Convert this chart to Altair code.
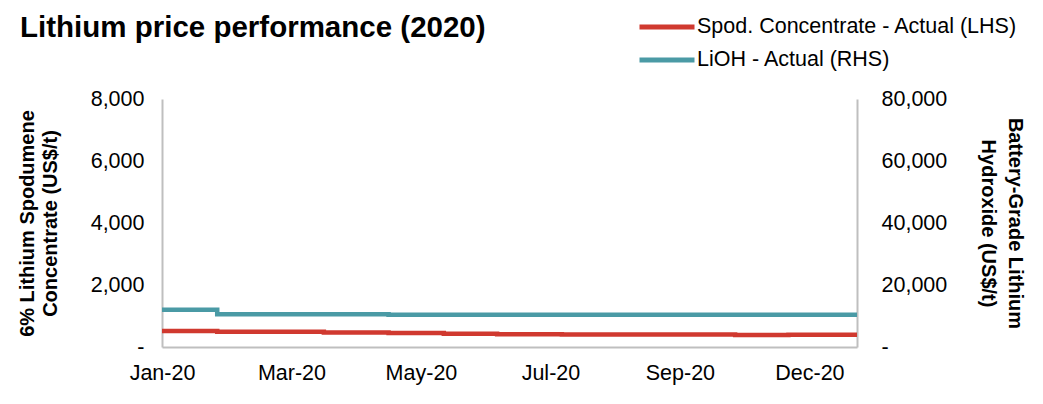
import altair as alt
import pandas as pd

# ---- data ----
dates = ["2020-01-01", "2020-01-30", "2020-02-27", "2020-03-26", "2020-04-29",
         "2020-05-28", "2020-06-25", "2020-07-29", "2020-08-27", "2020-09-24",
         "2020-10-28", "2020-11-25", "2020-12-31"]
spod_values = [515, 495, 495, 465, 450, 430, 415, 400, 400, 400, 390, 393, 393]
lioh_values = [12000, 10600, 10600, 10600, 10400, 10400, 10400, 10400, 10400,
               10400, 10400, 10400, 10400]
series_names = ["Spod. Concentrate - Actual (LHS)", "LiOH - Actual (RHS)"]
series_colors = ["#D0392F", "#4A9AA5"]
tick_dates = ["2020-01-01", "2020-03-09", "2020-05-16", "2020-07-23",
              "2020-09-29", "2020-12-06"]
left_ticks = [0, 2000, 4000, 6000, 8000]
right_ticks = [0, 20000, 40000, 60000, 80000]

spod = pd.DataFrame({"date": dates, "value": spod_values, "series": series_names[0]})
lioh = pd.DataFrame({"date": dates, "value": lioh_values, "series": series_names[1]})

FONT = "Liberation Sans"
AXIS_GREY = "#BFBFBF"
LABEL_SIZE = 21.5

x_enc = alt.X(
    "date:T",
    scale=alt.Scale(domain=[alt.DateTime(year=2020, month=1, date=1),
                            alt.DateTime(year=2020, month=12, date=31)]),
    axis=alt.Axis(
        title=None,
        values=[alt.DateTime(year=int(d[:4]), month=int(d[5:7]), date=int(d[8:]))
                for d in tick_dates],
        format="%b-%y",
        labelFontSize=LABEL_SIZE,
        labelPadding=15,
        labelFlush=False,
        labelOverlap=False,
        ticks=False,
        grid=False,
        domainColor=AXIS_GREY,
        domainWidth=2,
    ),
)

color_enc = alt.Color(
    "series:N",
    scale=alt.Scale(domain=series_names, range=series_colors),
    legend=alt.Legend(
        title=None,
        orient="none",
        legendX=475,
        legendY=-83,
        symbolType="stroke",
        symbolSize=3025,
        symbolStrokeWidth=5,
        labelFontSize=LABEL_SIZE,
        labelOffset=0,
        clipHeight=22,
        rowPadding=11,
        labelLimit=400,
    ),
)

zero_dash = "datum.value == 0 ? '-' : format(datum.value, ',')"

left = alt.Chart(spod).mark_line(interpolate="step-after", strokeWidth=4.5).encode(
    x=x_enc,
    y=alt.Y(
        "value:Q",
        scale=alt.Scale(domain=[0, 8000]),
        axis=alt.Axis(
            title=["6% Lithium Spodumene", "Concentrate (US$/t)"],
            titleFontSize=20,
            titleFontWeight="bold",
            titleLineHeight=23,
            titleX=-125,
            titleY=124,
            values=left_ticks,
            labelExpr=zero_dash,
            labelFontSize=LABEL_SIZE,
            labelPadding=18,
            ticks=False,
            grid=False,
            domainColor=AXIS_GREY,
            domainWidth=2,
        ),
    ),
    color=color_enc,
)

right = alt.Chart(lioh).mark_line(interpolate="step-after", strokeWidth=4.5).encode(
    x=x_enc,
    y=alt.Y(
        "value:Q",
        scale=alt.Scale(domain=[0, 80000]),
        axis=alt.Axis(
            orient="right",
            title=["Battery-Grade Lithium", "Hydroxide (US$/t)"],
            titleFontSize=20,
            titleFontWeight="bold",
            titleLineHeight=27,
            titleX=147,
            titleY=124,
            values=right_ticks,
            labelExpr=zero_dash,
            labelFontSize=LABEL_SIZE,
            labelPadding=24,
            ticks=False,
            grid=False,
            domainColor=AXIS_GREY,
            domainWidth=2,
        ),
    ),
    color=color_enc,
)

chart = (
    alt.layer(left, right)
    .resolve_scale(y="independent")
    .properties(
        width=695,
        height=248,
        autosize=alt.AutoSizeParams(type="none"),
        padding={"left": 154, "top": 91, "right": 178, "bottom": 49},
        title=alt.TitleParams(
            "Lithium price performance (2020)",
            anchor="start",
            frame="group",
            fontSize=29.5,
            fontWeight="bold",
            color="black",
            dx=-142,
            offset=0,
            dy=27,
        ),
    )
    .configure(font=FONT)
    .configure_axis(labelColor="black", titleColor="black", labelFont=FONT, titleFont=FONT)
    .configure_legend(labelColor="black", labelFont=FONT)
    .configure_title(font=FONT)
    .configure_view(stroke=None)
)

chart.save("out.html", embed_options={"renderer": "svg", "actions": False})
